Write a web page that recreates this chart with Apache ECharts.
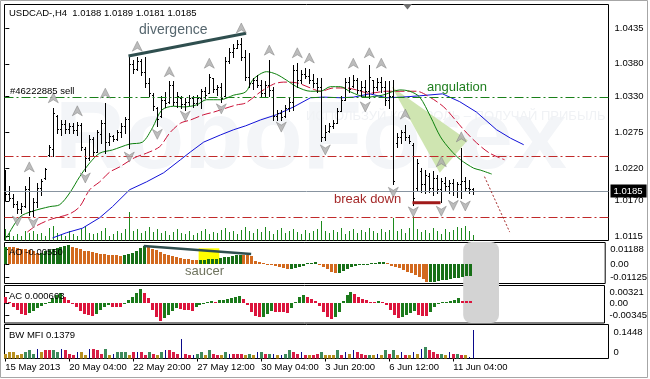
<!DOCTYPE html>
<html><head><meta charset="utf-8">
<script src="https://cdn.jsdelivr.net/npm/echarts@6/dist/echarts.min.js"></script>
<style>html,body{margin:0;padding:0;background:#fff}#c{width:650px;height:379px}</style>
</head><body><div id="c"></div>
<script>
const FONT = "'Liberation Sans', Arial, sans-serif";
// ---- axis ticks / labels ----
const xTickBars = [0,16,32,48,64,80,96,112];
const xTickLabels = ['15 May 2013','20 May 04:00','22 May 20:00','27 May 12:00','30 May 04:00','3 Jun 20:00','6 Jun 12:00','11 Jun 04:00'];
const priceTicks = [1.0435,1.0380,1.0330,1.0275,1.0220,1.0170,1.0115];
const priceTickLabels = ['1.0435','1.0380','1.0330','1.0275','1.0220','1.0170','1.0115'];
const aoTicks = [0.01188,0,-0.01125];
const aoTickLabels = ['0.01188','0.00','-0.01125'];
const acTicks = [0.00321,0,-0.00345];
const acTickLabels = ['0.00321','0.00','-0.00345'];
const mfiTicks = [0.1448,0];
const mfiTickLabels = ['0.1448','0'];
// ---- OHLC (H4 bars) ----
const opens = [1.0210,1.0180,1.0175,1.0165,1.0158,1.0162,1.0188,1.0155,1.0168,1.0190,
1.0205,1.0240,1.0250,1.0300,1.0280,1.0288,1.0280,1.0285,1.0278,1.0286,
1.0250,1.0235,1.0265,1.0245,1.0272,1.0290,1.0260,1.0270,1.0265,1.0275,
1.0285,1.0295,1.0380,1.0372,1.0385,1.0368,1.0350,1.0333,1.0312,1.0300,
1.0325,1.0322,1.0348,1.0322,1.0328,1.0318,1.0322,1.0328,1.0320,1.0328,
1.0338,1.0335,1.0358,1.0342,1.0345,1.0330,1.0385,1.0398,1.0405,1.0410,
1.0390,1.0360,1.0350,1.0355,1.0348,1.0335,1.0348,1.0340,1.0300,1.0305,
1.0300,1.0312,1.0322,1.0370,1.0355,1.0365,1.0362,1.0355,1.0350,1.0345,
1.0268,1.0277,1.0285,1.0290,1.0308,1.0325,1.0352,1.0346,1.0355,1.0340,
1.0345,1.0338,1.0355,1.0345,1.0352,1.0345,1.0325,1.0330,1.0258,1.0268,
1.0275,1.0268,1.0256,1.0190,1.0215,1.0195,1.0208,1.0190,1.0205,1.0188,
1.0198,1.0192,1.0198,1.0185,1.0195,1.0200,1.0190,1.0188];
const highs = [1.0217,1.0192,1.0181,1.0169,1.0166,1.0192,1.0207,1.0174,1.0197,1.0204,
1.0220,1.0256,1.0312,1.0302,1.0294,1.0294,1.0289,1.0289,1.0291,1.0289,
1.0253,1.0271,1.0268,1.0279,1.0294,1.0320,1.0274,1.0271,1.0279,1.0289,
1.0299,1.0391,1.0386,1.0391,1.0388,1.0391,1.0358,1.0335,1.0314,1.0330,
1.0337,1.0353,1.0353,1.0337,1.0330,1.0327,1.0332,1.0331,1.0332,1.0342,
1.0345,1.0365,1.0358,1.0348,1.0350,1.0391,1.0404,1.0411,1.0417,1.0419,
1.0401,1.0396,1.0358,1.0363,1.0355,1.0353,1.0386,1.0345,1.0309,1.0309,
1.0317,1.0327,1.0378,1.0381,1.0371,1.0373,1.0372,1.0365,1.0358,1.0358,
1.0286,1.0289,1.0294,1.0312,1.0330,1.0358,1.0360,1.0363,1.0358,1.0353,
1.0355,1.0378,1.0355,1.0358,1.0360,1.0353,1.0353,1.0355,1.0274,1.0279,
1.0286,1.0271,1.0258,1.0234,1.0220,1.0217,1.0212,1.0215,1.0210,1.0205,
1.0207,1.0202,1.0204,1.0199,1.0251,1.0207,1.0202,1.0189];
const lows = [1.0171,1.0171,1.0161,1.0152,1.0151,1.0161,1.0148,1.0146,1.0161,1.0179,
1.0204,1.0238,1.0238,1.0274,1.0271,1.0274,1.0274,1.0274,1.0271,1.0248,
1.0215,1.0233,1.0238,1.0245,1.0258,1.0243,1.0256,1.0261,1.0263,1.0268,
1.0274,1.0251,1.0366,1.0371,1.0363,1.0345,1.0330,1.0309,1.0284,1.0299,
1.0314,1.0320,1.0317,1.0314,1.0312,1.0309,1.0317,1.0314,1.0317,1.0312,
1.0327,1.0335,1.0337,1.0332,1.0322,1.0330,1.0381,1.0391,1.0404,1.0386,
1.0355,1.0345,1.0342,1.0345,1.0330,1.0330,1.0330,1.0294,1.0294,1.0294,
1.0299,1.0307,1.0309,1.0345,1.0350,1.0358,1.0350,1.0345,1.0337,1.0261,
1.0263,1.0276,1.0281,1.0289,1.0307,1.0325,1.0337,1.0345,1.0335,1.0330,
1.0330,1.0327,1.0335,1.0340,1.0337,1.0317,1.0312,1.0195,1.0253,1.0259,
1.0263,1.0258,1.0163,1.0187,1.0184,1.0182,1.0184,1.0179,1.0182,1.0168,
1.0187,1.0182,1.0179,1.0176,1.0174,1.0187,1.0182,1.0181];
const closes = [1.0180,1.0175,1.0165,1.0158,1.0162,1.0188,1.0155,1.0168,1.0190,1.0200,
1.0218,1.0252,1.0305,1.0280,1.0288,1.0280,1.0285,1.0278,1.0286,1.0252,
1.0235,1.0265,1.0245,1.0275,1.0290,1.0260,1.0270,1.0265,1.0275,1.0285,
1.0295,1.0380,1.0372,1.0385,1.0368,1.0350,1.0335,1.0315,1.0295,1.0325,
1.0320,1.0348,1.0322,1.0330,1.0318,1.0322,1.0328,1.0320,1.0328,1.0338,
1.0332,1.0360,1.0342,1.0345,1.0328,1.0385,1.0398,1.0405,1.0410,1.0390,
1.0360,1.0350,1.0355,1.0348,1.0335,1.0348,1.0340,1.0300,1.0305,1.0298,
1.0312,1.0322,1.0370,1.0355,1.0365,1.0362,1.0355,1.0350,1.0345,1.0268,
1.0275,1.0285,1.0290,1.0308,1.0325,1.0352,1.0342,1.0355,1.0340,1.0345,
1.0338,1.0360,1.0345,1.0352,1.0345,1.0325,1.0330,1.0200,1.0268,1.0275,
1.0268,1.0262,1.0175,1.0228,1.0195,1.0210,1.0190,1.0205,1.0188,1.0200,
1.0192,1.0198,1.0185,1.0195,1.0200,1.0190,1.0188,1.0185];
const volumes = [1200,800,500,700,500,1000,800,1000,700,800,
500,1300,1500,800,700,500,1000,700,500,1200,
1500,800,700,800,1000,1300,500,700,1000,800,
1200,2900,1000,1200,800,1000,1400,900,1200,800,
1000,600,900,1200,800,700,1000,600,800,1000,
1200,700,900,800,1100,1300,900,1000,700,1100,
1400,1000,800,1200,900,1400,1000,700,1100,1300,
800,1000,1200,900,700,1100,800,1000,1200,2000,
1000,800,1100,900,1300,700,1000,1200,800,1100,
900,1300,1000,800,1200,900,1100,2300,1000,1200,
800,1300,2500,1200,900,1100,800,1300,1000,700,
1200,900,1100,1400,1300,1500,1000,600];
// ---- Alligator lines [bar, price] ----
const lips = [[0.3,1.0113],[3.6,1.0145],[6.8,1.0154],[11.1,1.0161],[13.6,1.0164],[16.1,1.0182],[18.6,1.0207],[21.1,1.0228],[23.6,1.0243],[26.8,1.0248],[31.1,1.0257],[34.3,1.0260],[36.8,1.0282],[39.1,1.0309],[42.1,1.0315],[44.6,1.0314],[47.8,1.0317],[50.3,1.0325],[53.8,1.0325],[57.1,1.0332],[60.1,1.0337],[61.8,1.0355],[63.6,1.0364],[65.3,1.0368],[67.8,1.0364],[70.3,1.0355],[72.8,1.0345],[76.3,1.0338],[78.8,1.0338],[81.3,1.0345],[83.8,1.0345],[86.3,1.0337],[90.3,1.0329],[94.3,1.0332],[98.6,1.0340],[101.1,1.0338],[103.6,1.0329],[106.3,1.0299],[108.8,1.0268],[111.3,1.0248],[113.8,1.0233],[117.1,1.0220],[118.8,1.0217],[121.6,1.0211]];
const teeth = [[5.5,1.0122],[7.3,1.0130],[11.1,1.0141],[16.1,1.0150],[18.6,1.0161],[21.1,1.0187],[23.6,1.0199],[26.1,1.0214],[28.6,1.0222],[32.3,1.0236],[35.3,1.0243],[38.6,1.0253],[41.1,1.0274],[43.8,1.0289],[46.3,1.0294],[49.6,1.0302],[52.1,1.0306],[54.6,1.0311],[57.8,1.0317],[60.1,1.0320],[63.8,1.0337],[67.1,1.0349],[69.6,1.0352],[72.8,1.0351],[76.3,1.0343],[78.8,1.0338],[82.1,1.0343],[85.3,1.0343],[87.8,1.0340],[91.1,1.0335],[95.3,1.0338],[100.3,1.0338],[102.8,1.0338],[106.1,1.0329],[109.6,1.0314],[112.1,1.0297],[114.6,1.0279],[117.8,1.0259],[121.1,1.0243],[124.8,1.0233]];
const jaw = [[11.8,1.0113],[15.3,1.0121],[19.3,1.0128],[23.6,1.0144],[26.8,1.0161],[31.1,1.0187],[35.3,1.0199],[39.6,1.0213],[43.8,1.0233],[46.3,1.0245],[49.6,1.0260],[53.8,1.0271],[57.1,1.0279],[60.1,1.0285],[63.8,1.0294],[67.8,1.0302],[72.1,1.0314],[76.3,1.0328],[79.6,1.0329],[83.8,1.0328],[87.1,1.0329],[91.1,1.0334],[95.3,1.0328],[99.3,1.0329],[103.6,1.0331],[109.3,1.0334],[113.6,1.0322],[117.8,1.0306],[122.8,1.0279],[126.3,1.0266],[129.6,1.0256]];
// ---- fractal arrows [bar, price] ----
const fractalUp = [[6,1.0222],[12,1.0328],[18,1.0308],[25,1.0335],[33,1.0407],[41,1.0368],[51,1.0381],[59,1.0435],[66,1.0401],[73,1.0397],[76,1.0389],[87,1.0381],[91,1.0397],[94,1.0381],[100,1.0303],[109,1.0230],[114,1.0268]];
const fractalDown = [[3,1.0139],[7,1.0136],[20,1.0205],[31,1.0237],[38,1.0272],[45,1.0300],[54,1.0311],[69,1.0283],[80,1.0248],[90,1.0314],[97,1.0183],[102,1.0153],[109,1.0154],[112,1.0163],[115,1.0162]];
// ---- drawn objects ----
const orderLevel = 1.0329, upperLevel = 1.0238, lowerLevel = 1.0145;
const divergenceLine = [[30.8,1.0392],[60.2,1.0427]];
const breakDownLine = [[101.8,1.0167],[108.8,1.0167]];
const projectionLine = [[119.8,1.0207],[126.1,1.0122]];
const angulationArea = [[96.6,1.0345],[115.6,1.0263],[108.6,1.0213]];
const aoTrendLine = [[34.8,0.0150],[61.8,0.0083]];
const saucerBox = [48.6,53.8,0.0131,0];
const highlightBars = [115.1,124.1];
// ---- Awesome oscillator ----
const aoPrev = 0.0140;
const ao = [0.0144,0.0142,0.0139,0.0133,0.0128,0.0122,0.0114,0.0106,0.0089,0.0094,
0.0106,0.0117,0.0125,0.0133,0.0142,0.0150,0.0158,0.0144,0.0133,0.0122,
0.0111,0.0106,0.0097,0.0092,0.0086,0.0081,0.0078,0.0075,0.0072,0.0069,
0.0072,0.0083,0.0094,0.0111,0.0131,0.0150,0.0139,0.0128,0.0114,0.0100,
0.0086,0.0075,0.0064,0.0056,0.0047,0.0042,0.0039,0.0036,0.0033,0.0034,
0.0036,0.0039,0.0042,0.0044,0.0049,0.0055,0.0061,0.0066,0.0071,0.0076,
0.0074,0.0072,0.0067,0.0028,0.0017,0.0008,0.0003,-0.0008,-0.0017,-0.0022,
-0.0033,-0.0045,-0.0042,-0.0033,-0.0022,-0.0014,0.0006,0.0011,0.0017,0.0001,
-0.0022,-0.0044,-0.0064,-0.0078,-0.0076,-0.0058,-0.0042,-0.0028,-0.0017,-0.0011,
-0.0008,-0.0003,0.0006,0.0011,0.0014,0.0015,0.0008,-0.0014,-0.0022,-0.0033,
-0.0050,-0.0064,-0.0078,-0.0092,-0.0106,-0.0128,-0.0153,-0.0150,-0.0147,-0.0142,
-0.0136,-0.0131,-0.0125,-0.0120,-0.0114,-0.0108,-0.0103,-0.0097];
// ---- Accelerator oscillator ----
const acPrev = 0.0025;
const ac = [0.0017,0.0005,-0.0010,-0.0019,-0.0031,-0.0034,-0.0029,-0.0021,-0.0015,-0.0008,
-0.0002,0.0005,0.0015,0.0024,0.0031,0.0019,0.0010,-0.0002,-0.0012,-0.0021,
-0.0031,-0.0034,-0.0036,-0.0030,-0.0019,-0.0010,-0.0005,-0.0010,-0.0011,-0.0012,
0.0002,0.0010,0.0019,0.0029,0.0041,0.0029,0.0015,-0.0019,-0.0041,-0.0051,
-0.0043,-0.0034,-0.0021,-0.0014,-0.0017,-0.0019,-0.0020,-0.0021,-0.0012,-0.0005,
-0.0001,0.0004,0.0007,0.0005,0.0009,0.0011,0.0013,0.0014,0.0018,0.0022,
0.0012,-0.0005,-0.0024,-0.0037,-0.0041,-0.0039,-0.0031,-0.0022,-0.0024,-0.0025,
-0.0026,-0.0027,-0.0014,0.0005,0.0017,0.0024,0.0019,0.0013,0.0007,-0.0008,
-0.0024,-0.0039,-0.0046,-0.0041,-0.0024,0.0007,0.0024,0.0032,0.0027,0.0017,
0.0012,0.0010,0.0004,0.0003,0.0007,0.0004,-0.0005,-0.0019,-0.0034,-0.0043,
-0.0040,-0.0035,-0.0029,-0.0022,-0.0034,-0.0037,-0.0038,-0.0024,-0.0010,-0.0003,
0.0004,0.0005,0.0007,0.0010,0.0014,0.0007,0.00065,0.0006];
// ---- BW Market Facilitation Index ----
const mfi = [0.0238,0.0286,0.0286,0.0190,0.0238,0.0333,0.0381,0.0238,0.0476,0.0286,
0.0381,0.0381,0.0428,0.0333,0.0476,0.0428,0.0238,0.0190,0.0333,0.0333,
0.0190,0.0476,0.0476,0.0381,0.0238,0.0476,0.0143,0.0238,0.0286,0.0333,
0.0286,0.0190,0.0286,0.0333,0.0333,0.0190,0.0333,0.0238,0.0190,0.0286,
0.0381,0.0381,0.0333,0.0238,0.0952,0.0238,0.0190,0.0190,0.0238,0.0333,
0.0143,0.0381,0.0238,0.0190,0.0190,0.0286,0.0238,0.0238,0.0238,0.0238,
0.0190,0.0238,0.0143,0.0286,0.0333,0.0238,0.0238,0.0238,0.0190,0.0190,
0.0238,0.0381,0.0286,0.0238,0.0286,0.0190,0.0143,0.0190,0.0238,0.0333,
0.0143,0.0143,0.0143,0.0381,0.0143,0.0333,0.0238,0.0381,0.0333,0.0238,
0.0143,0.0190,0.0190,0.0238,0.0143,0.0428,0.0238,0.0428,0.0190,0.0286,
0.0190,0.0190,0.0286,0.0238,0.0476,0.0571,0.0381,0.0333,0.0238,0.0238,
0.0143,0.0286,0.0238,0.0238,0.0190,0.0143,0.0095,0.1379];
const mfiType = ('fffffgggbf'+'ssggbsssbf'+'fbsssgfbgg'+'gfsbssgsfg'+'bsssbssbgg'+'fgssfgbsss'+'fgfbgsgbfb'+'ggssbsfssg'+'fffgsbfbss'+'sgfbfgsgfb'+'sfbfbgsssg'+'fbsgsfbb').split('');

// ================= rendering =================
const XMIN = -0.2, XMAX = 150.8;
const C = {aoUp:'#176f17', aoDn:'#d2691e', acUp:'#1b7a1b', acDn:'#dc143c',
  mfi:{g:'#3e8b5b', f:'#b8901f', s:'#d81e46', b:'#0a0a8a'}};
function lbl(ticks, labels){ return v => { for (let k=0;k<ticks.length;k++) if (Math.abs(ticks[k]-v)<1e-9) return labels[k]; return ''; }; }
const baseLabel = {color:'#000', fontSize:9.5, fontFamily:FONT};
function gridOf(top, height){ return {left:4.5, top, width:604, height, show:true, borderColor:'#000', borderWidth:1, backgroundColor:'transparent'}; }
function xAx(k, withLabels){
  return {type:'value', gridIndex:k, min:XMIN, max:XMAX, splitLine:{show:false}, axisLine:{show:false},
    axisTick: withLabels ? {show:true, length:3, customValues:xTickBars, lineStyle:{color:'#000'}} : {show:false},
    axisLabel: withLabels ? Object.assign({show:true, customValues:xTickBars, formatter:lbl(xTickBars,xTickLabels), align:'left', margin:4}, baseLabel) : {show:false}};
}
function yAx(k, min, max, ticks, labels, extra){
  return Object.assign({type:'value', gridIndex:k, position:'right', min, max, scale:true, splitLine:{show:false}, axisLine:{show:false},
    axisTick:{show:true, length:4, customValues:ticks, lineStyle:{color:'#000'}},
    axisLabel:Object.assign({show:true, customValues:ticks, formatter:lbl(ticks,labels), margin:5}, baseLabel)}, extra||{});
}
function hist(xi, yi, values, colorFn, widthFn, z){
  return {type:'custom', xAxisIndex:xi, yAxisIndex:yi, z:z||3, clip:true, silent:true,
    data: values.map((v,i)=>[i,v]),
    renderItem:(params, api)=>{
      const i = api.value(0), v = api.value(1);
      const top = api.coord([i, v]), base = api.coord([i, 0]);
      const col = Math.floor(top[0]);
      const w = widthFn ? widthFn(params.dataIndex) : 3;
      const x = w === 1 ? col : col - 1;
      const y1 = Math.round(Math.min(top[1], base[1])), y2 = Math.round(Math.max(top[1], base[1]));
      return {type:'rect', shape:{x, y:y1, width:w, height:Math.max(1, y2 - y1)}, style:{fill:colorFn(params.dataIndex)}};
    }};
}
function seg(data, xi, yi, color, width, type, z){
  return {type:'line', xAxisIndex:xi, yAxisIndex:yi, data, showSymbol:false, symbol:'none', silent:true, z:z||4,
    lineStyle:{color, width, type:type||'solid'}};
}
const lastClose = closes[closes.length-1];

const option = {
  animation:false,
  backgroundColor:'#ffffff',
  grid:[gridOf(4.5,236), gridOf(242.5,41), gridOf(285.5,37.5), gridOf(324.5,34)],
  xAxis:[xAx(0,false), xAx(1,false), xAx(2,false), xAx(3,true)],
  yAxis:[
    yAx(0, 1.010908, 1.047104, priceTicks, priceTickLabels, {axisLabel:Object.assign({show:true, customValues:priceTicks, formatter:lbl(priceTicks,priceTickLabels), margin:6}, baseLabel)}),
    {type:'value', gridIndex:0, min:0, max:23600, show:false},
    yAx(1, -0.01625, 0.017917, aoTicks, aoTickLabels),
    yAx(2, -0.005713, 0.005162, acTicks, acTickLabels),
    yAx(3, 0, 0.16184, mfiTicks, mfiTickLabels, {axisLabel:Object.assign({show:true, customValues:mfiTicks, margin:5,
      formatter:v => Math.abs(v) < 1e-9 ? '{lo|' + mfiTickLabels[1] + '}' : '{hi|' + mfiTickLabels[0] + '}',
      rich:{hi:{padding:[8,0,0,0], fontSize:9.5, fontFamily:FONT, color:'#000'}, lo:{padding:[0,0,13,0], fontSize:9.5, fontFamily:FONT, color:'#000'}}}, baseLabel)})
  ],
  series:[
    // tick volumes
    {type:'custom', xAxisIndex:0, yAxisIndex:1, z:1, silent:true, clip:true,
      data: volumes.map((v,i)=>[i,v]),
      renderItem:(p, api)=>{ const t = api.coord([api.value(0), api.value(1)]), b = api.coord([api.value(0), 0]);
        const col = Math.floor(t[0]);
        return {type:'rect', shape:{x:col, y:Math.round(t[1]), width:1, height:Math.round(b[1]) - Math.round(t[1])}, style:{fill:'#1c8a1c'}}; }},
    // angulation shaded area
    {type:'custom', xAxisIndex:0, yAxisIndex:0, z:1, silent:true, data:[0],
      renderItem:(p, api)=>({type:'polygon', shape:{points: angulationArea.map(q => api.coord(q))}, style:{fill:'#cfe5b1'}})},
    seg(jaw, 0, 0, '#1212d8', 1, 'solid', 2),
    Object.assign(seg(teeth, 0, 0, '#cc1238', 1, [9,3], 2), {smooth:0.3}),
    Object.assign(seg(lips, 0, 0, '#0b800b', 1, 'solid', 2), {smooth:0.3,
      markLine:{silent:true, symbol:['none','none'], animation:false, precision:4,
        data:[
          {yAxis:orderLevel, lineStyle:{color:'#1a801a', type:[9,3,2,3], width:1}, label:{show:false}},
          {yAxis:upperLevel, lineStyle:{color:'#c02a2a', type:[9,3,2,3], width:1}, label:{show:false}},
          {yAxis:lowerLevel, lineStyle:{color:'#c02a2a', type:[9,3,2,3], width:1}, label:{show:false}},
          {yAxis:lastClose, lineStyle:{color:'#8894a0', type:'solid', width:1},
            label:{show:true, position:'end', distance:2, formatter:lastClose.toFixed(4), backgroundColor:'#000', color:'#fff', padding:[2,4,1,3], fontSize:9.5, fontFamily:FONT}}
        ]}}),
    // OHLC bars
    {type:'custom', xAxisIndex:0, yAxisIndex:0, z:3, silent:true, clip:true,
      data: opens.map((o,i)=>[i, o, highs[i], lows[i], closes[i]]),
      renderItem:(p, api)=>{
        const i = api.value(0);
        const o = api.coord([i, api.value(1)]), h = api.coord([i, api.value(2)]), l = api.coord([i, api.value(3)]), c = api.coord([i, api.value(4)]);
        const col = Math.floor(h[0]), x = col + 0.5;
        const yo = Math.round(o[1]) + 0.5, yc = Math.round(c[1]) + 0.5;
        const st = {stroke:'#000', lineWidth:1};
        return {type:'group', children:[
          {type:'line', shape:{x1:x, y1:Math.round(h[1]), x2:x, y2:Math.round(l[1]) + 1}, style:st},
          {type:'line', shape:{x1:col - 1, y1:yo, x2:col, y2:yo}, style:st},
          {type:'line', shape:{x1:col + 1, y1:yc, x2:col + 2, y2:yc}, style:st}]};
      }},
    seg(divergenceLine, 0, 0, '#2f4f4f', 3, 'solid', 5),
    seg(breakDownLine, 0, 0, '#a01a1a', 3, 'solid', 5),
    seg(projectionLine, 0, 0, '#a52a2a', 1, [2,2], 5),
    {type:'scatter', xAxisIndex:0, yAxisIndex:0, z:6, silent:true, data:fractalUp,
      symbol:'path://M5,0L10,10L5,7L0,10Z', symbolSize:[10,10], itemStyle:{color:'#ababab', borderColor:'#7d7d7d', borderWidth:0.6}},
    {type:'scatter', xAxisIndex:0, yAxisIndex:0, z:6, silent:true, data:fractalDown,
      symbol:'path://M0,0L5,3L10,0L5,10Z', symbolSize:[10,10], itemStyle:{color:'#ababab', borderColor:'#7d7d7d', borderWidth:0.6}},
    // AO panel
    {type:'custom', xAxisIndex:1, yAxisIndex:2, z:1, silent:true, data:[0],
      renderItem:(p, api)=>{ const a = api.coord([saucerBox[0], saucerBox[2]]), b = api.coord([saucerBox[1], saucerBox[3]]);
        return {type:'rect', shape:{x:a[0], y:a[1], width:b[0]-a[0], height:b[1]-a[1]}, style:{fill:'#ffff00'}}; }},
    hist(1, 2, ao, i => ao[i] >= (i === 0 ? aoPrev : ao[i-1]) ? C.aoUp : C.aoDn, null, 3),
    seg(aoTrendLine, 1, 2, '#2f4f4f', 2.5, 'solid', 5),
    // AC panel
    hist(2, 3, ac, i => ac[i] >= (i === 0 ? acPrev : ac[i-1]) ? C.acUp : C.acDn, null, 3),
    // BW MFI panel
    hist(3, 4, mfi, i => C.mfi[mfiType[i]], i => mfiType[i] === 'b' ? 1 : 3, 3)
  ]
};
const chart = echarts.init(document.getElementById('c'), null, {renderer:'canvas', width:650, height:379});
chart.setOption(option);

const hx0 = chart.convertToPixel({xAxisIndex:1}, highlightBars[0]);
const hx1 = chart.convertToPixel({xAxisIndex:1}, highlightBars[1]);
const txt = (x, y, text, extra) => Object.assign({type:'text', x, y, z:20, silent:true,
  style:Object.assign({text, fill:'#000', font:'9.5px ' + FONT, textVerticalAlign:'middle', textAlign:'left'}, extra||{})});
chart.setOption({graphic:{elements:[
  {type:'text', x:55, y:93, z:0, silent:true, style:{text:'RoboForex', fill:'#f3f5f8', font:'bold 97px ' + FONT, textVerticalAlign:'alphabetic'}},
  {type:'text', x:306, y:116, z:0, silent:true, style:{text:'ИСПОЛЬЗУЙ КОНТРОЛЬ – ПОЛУЧАЙ ПРИБЫЛЬ', fill:'#f0f2f5', font:'13px ' + FONT, textVerticalAlign:'middle'}},
  {type:'rect', z:1, silent:true, shape:{x:hx0, y:242, width:hx1 - hx0, height:81, r:8}, style:{fill:'#d3d3d3'}},
  {type:'polygon', z:20, silent:true, shape:{points:[[403,4],[412,4],[407.5,9.5]]}, style:{fill:'#6e6e6e'}},
  {type:'rect', z:20, silent:true, shape:{x:0.5, y:0.5, width:647, height:377}, style:{fill:null, stroke:'#a6a6a6', lineWidth:1}},
  txt(9, 13, 'USDCAD-,H4  1.0188 1.0189 1.0181 1.0185'),
  txt(10, 91, '#46222885 sell'),
  txt(139, 30.5, 'divergence', {fill:'#56666e', font:'14px ' + FONT}),
  txt(427, 87.5, 'angulation', {fill:'#1f7f1f', font:'13px ' + FONT}),
  txt(334, 199, 'break down', {fill:'#a52a2a', font:'13px ' + FONT}),
  txt(185, 271, 'saucer', {fill:'#6f735e', font:'13px ' + FONT}),
  txt(9, 252.5, 'AO -0.00550'),
  txt(9, 296, 'AC 0.000603'),
  txt(9, 335.5, 'BW MFI 0.1379')
]}});
</script></body></html>
